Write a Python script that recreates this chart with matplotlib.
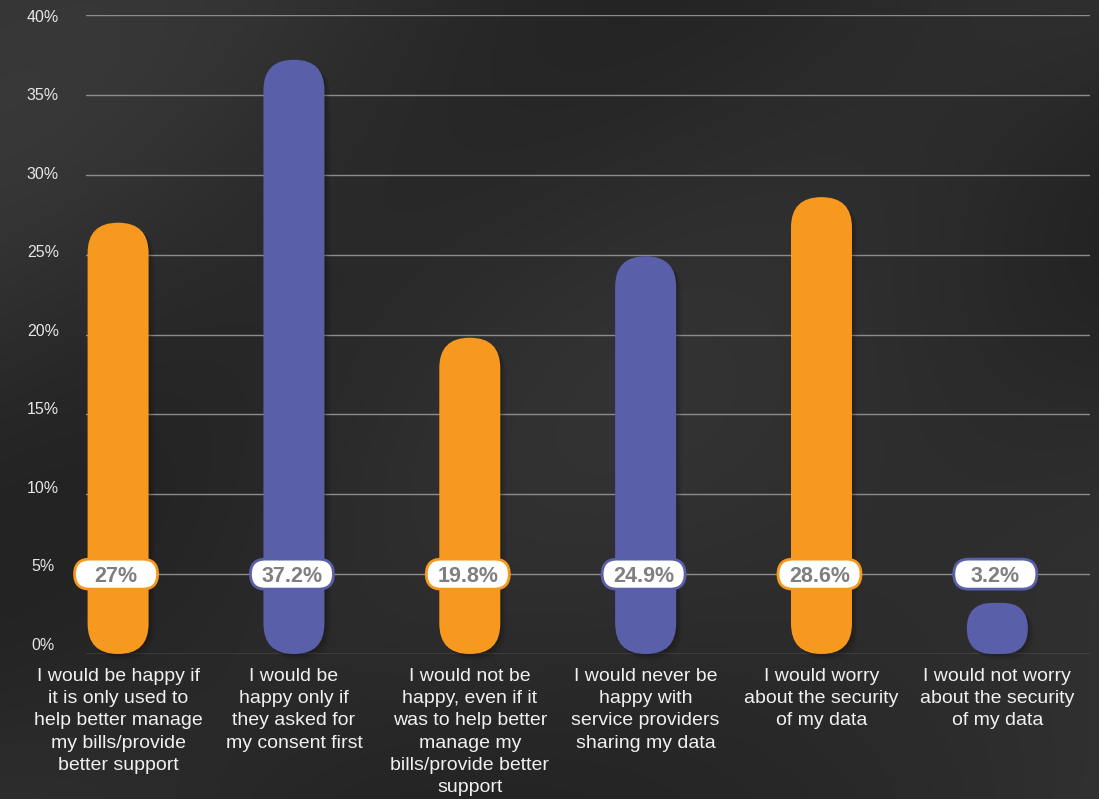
import numpy as np
import matplotlib
matplotlib.use("Agg")
import matplotlib.pyplot as plt
from matplotlib.patches import FancyBboxPatch

categories = [
    "I would be happy if\nit is only used to\nhelp better manage\nmy bills/provide\nbetter support",
    "I would be\nhappy only if\nthey asked for\nmy consent first",
    "I would not be\nhappy, even if it\nwas to help better\nmanage my\nbills/provide better\nsupport",
    "I would never be\nhappy with\nservice providers\nsharing my data",
    "I would worry\nabout the security\nof my data",
    "I would not worry\nabout the security\nof my data",
]
values = [27, 37.2, 19.8, 24.9, 28.6, 3.2]
value_labels = ["27%", "37.2%", "19.8%", "24.9%", "28.6%", "3.2%"]
yticks = [0, 5, 10, 15, 20, 25, 30, 35, 40]
ytick_labels = ["0%", "5%", "10%", "15%", "20%", "25%", "30%", "35%", "40%"]

ORANGE = "#F7981F"
BLUE = "#5A5FA9"
colors = [ORANGE, BLUE, ORANGE, BLUE, ORANGE, BLUE]

plt.rcParams["font.family"] = ["Liberation Sans", "DejaVu Sans"]

W, H = 1099, 799
fig = plt.figure(figsize=(W / 100, H / 100), dpi=100)

# textured dark background
bg = fig.add_axes([0, 0, 1, 1], zorder=-10)
yy, xx = np.mgrid[0:1:200j, 0:1:280j]
tex = (0.5 + 0.25 * np.sin(6.0 * (xx * 1.2 + yy) + 0.8)
       + 0.2 * np.sin(3.0 * (xx - 1.5 * yy) + 2.0)
       + 0.15 * np.cos(9.0 * xx * yy + 1.0))
tex = (tex - tex.min()) / (tex.max() - tex.min())
bg.imshow(tex, cmap=matplotlib.colors.LinearSegmentedColormap.from_list(
    "bgc", ["#232323", "#383838"]), aspect="auto", extent=[0, 1, 0, 1],
    interpolation="bicubic")
bg.set_axis_off()

left_px, right_px, top_px, bottom_px = 86, 1090, 15, 654
ax = fig.add_axes([left_px / W, (H - bottom_px) / H,
                   (right_px - left_px) / W, (bottom_px - top_px) / H])
ax.patch.set_alpha(0)

x = np.arange(len(values))
ax.set_xlim(-0.1825, 5.527)
ax.set_ylim(0, 40)

# pixel <-> data scale
p0 = ax.transData.transform((0, 0))
p1 = ax.transData.transform((1, 1))
px_x = p1[0] - p0[0]
px_y = p1[1] - p0[1]
aspect = px_x / px_y

for spine in ax.spines.values():
    spine.set_visible(False)
ax.set_yticks(yticks)
ax.set_yticklabels([])
ax.tick_params(axis="both", length=0)
ax.set_xticks([])
ax.grid(axis="y", color="#8c8c8c", linewidth=1.0, zorder=0)
ax.set_axisbelow(True)

for t, lab in zip(yticks, ytick_labels):
    ax.text(-0.1825 - 43 / px_x, 0.56 + t * 0.9827, lab, ha="center",
            va="center", color="#e6e6e6", fontsize=11.5)

bar_w_px = 61
bw = bar_w_px / px_x
for xi, v, c in zip(x, values, colors):
    h_px = v * px_y
    r_px = min(bar_w_px / 2, h_px / 2)
    r = r_px / px_x
    # soft shadow
    for k, a in [(6, 0.06), (4, 0.08), (2, 0.1)]:
        sh = FancyBboxPatch((xi - bw / 2 + k / px_x, -k / px_y), bw, v,
                            boxstyle=f"round,pad=0,rounding_size={r}",
                            mutation_aspect=aspect, facecolor="black",
                            edgecolor="none", alpha=a, zorder=2, clip_on=False)
        ax.add_patch(sh)
    p = FancyBboxPatch((xi - bw / 2, 0), bw, v,
                       boxstyle=f"round,pad=0,rounding_size={r}",
                       mutation_aspect=aspect, facecolor=c, edgecolor="none",
                       zorder=3, clip_on=False)
    ax.add_patch(p)

# value pills at 5%
pill_w_px, pill_h_px = 83, 30
pw = pill_w_px / px_x
ph = pill_h_px / px_y
pr = (pill_h_px / 2) / px_x
label_y = 5
for xi, lab, c in zip(x, value_labels, colors):
    pill = FancyBboxPatch((xi - pw / 2 - 2 / px_x, label_y - ph / 2), pw, ph,
                          boxstyle=f"round,pad=0,rounding_size={pr}",
                          mutation_aspect=aspect, facecolor="white",
                          edgecolor=c, linewidth=2, zorder=5, clip_on=False)
    ax.add_patch(pill)
    ax.text(xi - 2 / px_x, label_y, lab, ha="center", va="center_baseline",
            color="#7f7f7f", fontsize=15.5, fontweight="bold", zorder=6)

for xi, cat in zip(x, categories):
    ax.text(xi, -14 / px_y, cat, ha="center", va="top", color="#f0f0f0",
            fontsize=14, linespacing=1.4, zorder=6, clip_on=False)

fig.savefig("out.png", dpi=100)
